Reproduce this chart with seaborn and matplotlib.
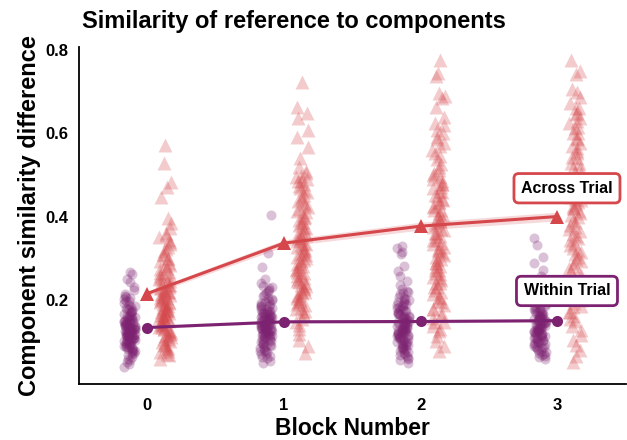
import numpy as np
import pandas as pd
import matplotlib
matplotlib.use("Agg")
import matplotlib.pyplot as plt
import seaborn as sns

# ---------------- data ----------------
blocks = [0, 1, 2, 3]
conditions = ["Within Trial", "Across Trial"]

within_b0 = [0.267, 0.262, 0.251, 0.243, 0.231, 0.224, 0.214, 0.208, 0.203, 0.197, 0.192, 0.189,
             0.183, 0.179, 0.176, 0.171, 0.168, 0.165, 0.162, 0.159, 0.157, 0.154, 0.152, 0.149,
             0.147, 0.146, 0.143, 0.141, 0.139, 0.138, 0.136, 0.134, 0.132, 0.131, 0.129, 0.127,
             0.125, 0.124, 0.122, 0.120, 0.118, 0.116, 0.114, 0.113, 0.111, 0.109, 0.107, 0.105,
             0.103, 0.101, 0.098, 0.096, 0.093, 0.090, 0.087, 0.084, 0.081, 0.078, 0.075, 0.072,
             0.068, 0.064, 0.060, 0.056, 0.051, 0.046, 0.040,
             0.198, 0.186, 0.181, 0.174, 0.169, 0.163, 0.158, 0.155, 0.151, 0.148, 0.145, 0.142,
             0.140, 0.137, 0.135, 0.133, 0.130, 0.128, 0.126, 0.123, 0.121, 0.119, 0.117, 0.115,
             0.112, 0.110, 0.108, 0.106, 0.104, 0.100, 0.097, 0.094, 0.091, 0.088, 0.085, 0.082,
             0.079, 0.074, 0.205, 0.210, 0.178, 0.160, 0.150, 0.143, 0.131, 0.124, 0.113, 0.102]
within_b1 = [0.404, 0.313, 0.279, 0.250, 0.240, 0.235, 0.228, 0.222, 0.216, 0.210, 0.205, 0.200,
             0.196, 0.192, 0.188, 0.185, 0.181, 0.178, 0.175, 0.172, 0.169, 0.166, 0.164, 0.161,
             0.159, 0.157, 0.155, 0.153, 0.151, 0.149, 0.147, 0.145, 0.143, 0.141, 0.139, 0.137,
             0.135, 0.133, 0.131, 0.129, 0.127, 0.125, 0.123, 0.121, 0.119, 0.117, 0.115, 0.113,
             0.111, 0.108, 0.105, 0.102, 0.099, 0.096, 0.093, 0.090, 0.087, 0.083, 0.079, 0.075,
             0.071, 0.066, 0.061, 0.055, 0.049,
             0.232, 0.224, 0.212, 0.203, 0.198, 0.190, 0.183, 0.179, 0.174, 0.170, 0.167, 0.163,
             0.160, 0.156, 0.154, 0.150, 0.148, 0.146, 0.144, 0.142, 0.140, 0.138, 0.136, 0.134,
             0.132, 0.130, 0.128, 0.126, 0.124, 0.122, 0.118, 0.116, 0.112, 0.109, 0.106, 0.100,
             0.095, 0.090, 0.085, 0.078, 0.070, 0.063, 0.158, 0.162, 0.171, 0.186]
within_b2 = [0.330, 0.326, 0.316, 0.310, 0.282, 0.270, 0.258, 0.246, 0.236, 0.226, 0.220, 0.214,
             0.208, 0.203, 0.198, 0.193, 0.189, 0.185, 0.181, 0.177, 0.173, 0.169, 0.165, 0.162,
             0.159, 0.156, 0.153, 0.150, 0.147, 0.145, 0.142, 0.140, 0.137, 0.135, 0.132, 0.130,
             0.128, 0.126, 0.124, 0.121, 0.119, 0.117, 0.114, 0.112, 0.109, 0.107, 0.104, 0.101,
             0.098, 0.095, 0.092, 0.089, 0.086, 0.083, 0.079, 0.075, 0.071, 0.067, 0.062, 0.057,
             0.050,
             0.222, 0.216, 0.205, 0.196, 0.190, 0.183, 0.178, 0.171, 0.167, 0.163, 0.160, 0.157,
             0.154, 0.151, 0.148, 0.146, 0.143, 0.141, 0.138, 0.136, 0.133, 0.131, 0.129, 0.127,
             0.125, 0.122, 0.120, 0.118, 0.115, 0.113, 0.110, 0.106, 0.103, 0.100, 0.096, 0.093,
             0.088, 0.084, 0.080, 0.073, 0.068, 0.060, 0.175, 0.168, 0.186, 0.200]
within_b3 = [0.348, 0.333, 0.303, 0.290, 0.272, 0.258, 0.245, 0.236, 0.228, 0.220, 0.213, 0.207,
             0.201, 0.196, 0.191, 0.186, 0.182, 0.178, 0.174, 0.170, 0.167, 0.163, 0.160, 0.157,
             0.154, 0.151, 0.149, 0.146, 0.144, 0.141, 0.139, 0.136, 0.134, 0.132, 0.130, 0.127,
             0.125, 0.123, 0.120, 0.118, 0.116, 0.113, 0.111, 0.108, 0.106, 0.103, 0.100, 0.097,
             0.094, 0.091, 0.088, 0.085, 0.081, 0.077, 0.073, 0.069, 0.064, 0.058,
             0.238, 0.225, 0.215, 0.205, 0.198, 0.193, 0.188, 0.184, 0.179, 0.175, 0.171, 0.168,
             0.165, 0.161, 0.158, 0.155, 0.152, 0.150, 0.147, 0.145, 0.142, 0.140, 0.137, 0.135,
             0.133, 0.130, 0.128, 0.126, 0.124, 0.121, 0.119, 0.115, 0.112, 0.109, 0.105, 0.101,
             0.098, 0.094, 0.089, 0.085, 0.079, 0.072, 0.066, 0.172, 0.162, 0.153]

across_b0 = [0.571, 0.528, 0.482, 0.470, 0.447, 0.396, 0.385, 0.372, 0.362, 0.352, 0.343, 0.335,
             0.327, 0.318, 0.309, 0.301, 0.294, 0.288, 0.281, 0.274, 0.268, 0.262, 0.257, 0.252,
             0.247, 0.242, 0.237, 0.232, 0.228, 0.224, 0.220, 0.216, 0.212, 0.208, 0.204, 0.200,
             0.196, 0.192, 0.188, 0.184, 0.180, 0.176, 0.172, 0.168, 0.164, 0.160, 0.156, 0.152,
             0.148, 0.144, 0.140, 0.135, 0.130, 0.125, 0.120, 0.114, 0.108, 0.102, 0.096, 0.090,
             0.083, 0.076, 0.068, 0.058,
             0.355, 0.340, 0.322, 0.310, 0.298, 0.285, 0.276, 0.266, 0.258, 0.250, 0.243, 0.236,
             0.230, 0.225, 0.219, 0.214, 0.209, 0.205, 0.200, 0.195, 0.190, 0.186, 0.182, 0.177,
             0.173, 0.169, 0.165, 0.161, 0.157, 0.153, 0.149, 0.145, 0.141, 0.136, 0.132, 0.127,
             0.122, 0.117, 0.112, 0.106, 0.099, 0.092, 0.085, 0.078, 0.070]
across_b1 = [0.722, 0.662, 0.648, 0.636, 0.607, 0.590, 0.567, 0.540, 0.510, 0.495, 0.486, 0.474,
             0.463, 0.452, 0.442, 0.432, 0.423, 0.414, 0.405, 0.396, 0.388, 0.380, 0.372, 0.364,
             0.356, 0.349, 0.342, 0.335, 0.328, 0.321, 0.314, 0.307, 0.300, 0.293, 0.286, 0.279,
             0.272, 0.265, 0.258, 0.251, 0.244, 0.237, 0.230, 0.223, 0.216, 0.209, 0.202, 0.195,
             0.188, 0.180, 0.172, 0.164, 0.156, 0.148, 0.140, 0.130, 0.118, 0.105, 0.090, 0.073,
             0.490, 0.478, 0.468, 0.458, 0.447, 0.437, 0.428, 0.419, 0.410, 0.400, 0.392, 0.384,
             0.376, 0.368, 0.360, 0.352, 0.345, 0.338, 0.331, 0.324, 0.317, 0.310, 0.303, 0.296,
             0.289, 0.282, 0.275, 0.268, 0.261, 0.254, 0.247, 0.240, 0.233, 0.226, 0.219, 0.212,
             0.205, 0.198, 0.190, 0.182, 0.174, 0.520, 0.505, 0.498, 0.485]
across_b2 = [0.775, 0.744, 0.737, 0.695, 0.690, 0.684, 0.662, 0.638, 0.625, 0.607, 0.590, 0.576,
             0.560, 0.545, 0.520, 0.504, 0.495, 0.486, 0.477, 0.468, 0.459, 0.450, 0.441, 0.432,
             0.424, 0.416, 0.408, 0.400, 0.392, 0.384, 0.376, 0.368, 0.360, 0.352, 0.344, 0.336,
             0.328, 0.320, 0.312, 0.304, 0.296, 0.288, 0.280, 0.272, 0.264, 0.256, 0.248, 0.240,
             0.232, 0.224, 0.215, 0.206, 0.197, 0.188, 0.178, 0.168, 0.158, 0.148, 0.137, 0.126,
             0.114, 0.102, 0.090, 0.078,
             0.620, 0.600, 0.585, 0.568, 0.552, 0.538, 0.525, 0.512, 0.500, 0.489, 0.479, 0.470,
             0.461, 0.452, 0.443, 0.434, 0.425, 0.416, 0.407, 0.398, 0.389, 0.380, 0.371, 0.362,
             0.353, 0.344, 0.335, 0.326, 0.317, 0.308, 0.299, 0.290, 0.281, 0.272, 0.262, 0.252,
             0.242, 0.231, 0.220, 0.208, 0.195, 0.180, 0.165, 0.148, 0.130]
across_b3 = [0.775, 0.748, 0.742, 0.705, 0.698, 0.686, 0.672, 0.660, 0.648, 0.636, 0.624, 0.612,
             0.600, 0.588, 0.576, 0.564, 0.552, 0.540, 0.528, 0.516, 0.504, 0.492, 0.480, 0.469,
             0.458, 0.447, 0.436, 0.425, 0.414, 0.403, 0.392, 0.381, 0.370, 0.359, 0.348, 0.337,
             0.326, 0.315, 0.304, 0.293, 0.282, 0.271, 0.260, 0.249, 0.238, 0.227, 0.216, 0.205,
             0.194, 0.183, 0.172, 0.161, 0.150, 0.139, 0.128, 0.116, 0.104, 0.092, 0.080, 0.066,
             0.052,
             0.660, 0.645, 0.630, 0.615, 0.600, 0.585, 0.570, 0.556, 0.542, 0.529, 0.516, 0.503,
             0.490, 0.478, 0.466, 0.454, 0.442, 0.431, 0.420, 0.409, 0.398, 0.387, 0.376, 0.365,
             0.354, 0.343, 0.332, 0.321, 0.310, 0.299, 0.288, 0.276, 0.264, 0.252, 0.240, 0.227,
             0.214, 0.200, 0.186, 0.171, 0.155, 0.420, 0.440, 0.460]

x_tick_labels = ["0", "1", "2", "3"]
y_ticks = [0.2, 0.4, 0.6, 0.8]

# ---------------- build long table ----------------
series = {
    ("Within Trial", 0): within_b0, ("Within Trial", 1): within_b1,
    ("Within Trial", 2): within_b2, ("Within Trial", 3): within_b3,
    ("Across Trial", 0): across_b0, ("Across Trial", 1): across_b1,
    ("Across Trial", 2): across_b2, ("Across Trial", 3): across_b3,
}
rows = []
for (cond, b), vals in series.items():
    for v in vals:
        rows.append({"condition": cond, "block": b, "value": v})
df = pd.DataFrame(rows)

# ---------------- style ----------------
sns.set_style("white")
plt.rcParams["font.family"] = ["Liberation Sans", "DejaVu Sans"]
plt.rcParams["font.weight"] = "bold"
for k in ["text.color", "axes.labelcolor", "xtick.color", "ytick.color"]:
    plt.rcParams[k] = "black"

colors = {"Within Trial": "#7d2271", "Across Trial": "#d5474b"}
markers = {"Within Trial": "o", "Across Trial": "^"}
strip_offset = {"Within Trial": -0.13, "Across Trial": 0.13}
strip_size = {"Within Trial": 7.2, "Across Trial": 10}

fig = plt.figure(figsize=(6.27, 4.4), dpi=100)
ax = fig.add_axes([0.126, 0.128, 0.872, 0.765])

np.random.seed(3)
for cond in conditions:
    sub = df[df["condition"] == cond].copy()
    sub["pos"] = sub["block"] + strip_offset[cond]
    sns.stripplot(data=sub, x="pos", y="value", native_scale=True, orient="x",
                  jitter=0.045, color=colors[cond], marker=markers[cond],
                  size=strip_size[cond], alpha=0.28, linewidth=0, ax=ax, zorder=2)

for cond in conditions:
    sub = df[df["condition"] == cond]
    sns.lineplot(data=sub, x="block", y="value", color=colors[cond],
                 marker=markers[cond], markersize=10 if cond == "Across Trial" else 8,
                 markeredgewidth=0, linewidth=2.2, errorbar=("se", 0.6), seed=0,
                 err_kws={"alpha": 0.2, "linewidth": 0}, ax=ax, zorder=4)

ax.set_xlim(-0.5, 3.5)
ax.set_ylim(0.0, 0.806)
ax.set_xticks(blocks)
ax.set_xticklabels(x_tick_labels)
ax.set_yticks(y_ticks)
ax.set_yticklabels([f"{t:.1f}" for t in y_ticks])
ax.tick_params(axis="y", length=0, labelsize=12, pad=7.5)
ax.tick_params(axis="x", length=0, labelsize=12, pad=10)
for lab in ax.get_xticklabels() + ax.get_yticklabels():
    lab.set_fontweight("bold")

for s in ["top", "right"]:
    ax.spines[s].set_visible(False)
for s in ["left", "bottom"]:
    ax.spines[s].set_color("black")
    ax.spines[s].set_linewidth(1.3)

ax.set_xlabel("Block Number", fontsize=16.5, fontweight="bold", labelpad=3)
ax.set_ylabel("Component similarity difference", fontsize=17, fontweight="bold", labelpad=3)
fig.text(0.131, 0.936, "Similarity of reference to components", fontsize=17,
         fontweight="bold", ha="left", va="baseline")

ax.text(3.07, 0.468, "Across Trial", ha="center", va="center", fontsize=11.5,
        fontweight="bold", zorder=6,
        bbox=dict(boxstyle="round,pad=0.45,rounding_size=0.3", fc="white",
                  ec=colors["Across Trial"], lw=2))
ax.text(3.07, 0.222, "Within Trial", ha="center", va="center", fontsize=11.5,
        fontweight="bold", zorder=6,
        bbox=dict(boxstyle="round,pad=0.45,rounding_size=0.3", fc="white",
                  ec=colors["Within Trial"], lw=2))

fig.savefig("out.png", dpi=100)
